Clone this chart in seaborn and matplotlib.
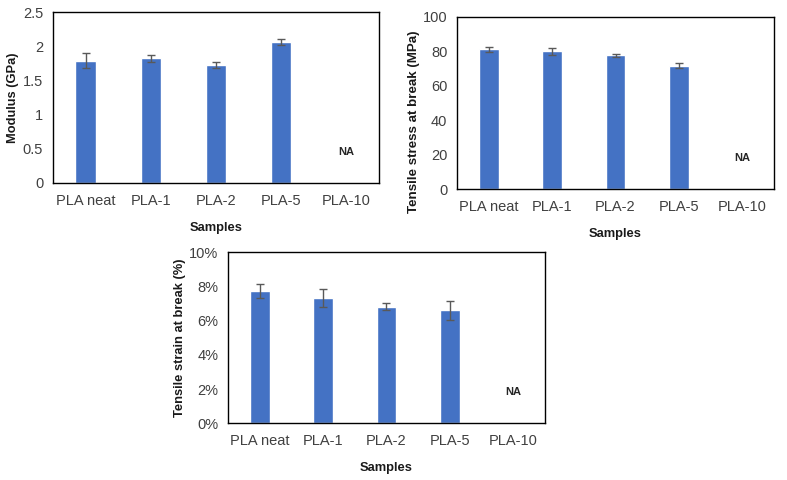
import numpy as np
import pandas as pd
import seaborn as sns
import matplotlib.pyplot as plt
from matplotlib.ticker import PercentFormatter

# data (PLA-10 not available)
samples = ['PLA neat', 'PLA-1', 'PLA-2', 'PLA-5', 'PLA-10']
modulus = [1.79, 1.82, 1.73, 2.06, np.nan]
modulus_err = [0.11, 0.05, 0.045, 0.05, np.nan]
stress = [81.1, 80.0, 77.6, 71.6, np.nan]
stress_err = [1.35, 2.0, 0.7, 1.45, np.nan]
strain = [7.74, 7.33, 6.82, 6.61, np.nan]
strain_err = [0.43, 0.5, 0.2, 0.54, np.nan]

sns.set_style('white')
plt.rcParams['font.family'] = ['Liberation Sans', 'DejaVu Sans']

bar_color = '#4472C4'
text_color = '#404040'

fig = plt.figure(figsize=(7.87, 4.8), dpi=100)
ax1 = fig.add_axes([0.0673, 0.619, 0.4143, 0.356])
ax2 = fig.add_axes([0.5807, 0.6056, 0.4028, 0.3596])
ax3 = fig.add_axes([0.2897, 0.1181, 0.4028, 0.3563])

# axis, values, errors, y label, y range, y ticks, NA label height, y label pad
panels = [
    (ax1, modulus, modulus_err, 'Modulus (GPa)', (0, 2.5), np.arange(0, 2.51, 0.5), 0.45, 3),
    (ax2, stress, stress_err, 'Tensile stress at break (MPa)', (0, 100), np.arange(0, 101, 20), 18, 1),
    (ax3, strain, strain_err, 'Tensile strain at break (%)', (0, 10), np.arange(0, 10.1, 2), 1.85, 2),
]

for ax, vals, errs, ylab, ylim, yticks, na_y, lpad in panels:
    df = pd.DataFrame({'sample': samples, 'value': vals})
    sns.barplot(data=df, x='sample', y='value', order=samples, color=bar_color,
                width=0.31, saturation=1, errorbar=None, ax=ax)
    ax.errorbar(np.arange(len(samples)), vals, yerr=errs, fmt='none',
                ecolor='#595959', elinewidth=1, capsize=3, capthick=1)
    # no bar for PLA-10, marked as NA
    ax.text(4, na_y, 'NA', ha='center', va='center', fontsize=8,
            fontweight='bold', color='#262626')
    ax.set_ylim(*ylim)
    ax.set_yticks(yticks)
    ax.set_xlim(-0.5, len(samples) - 0.5)
    ax.set_ylabel(ylab, fontsize=9.3, fontweight='bold', color='#1a1a1a', labelpad=lpad)
    ax.set_xlabel('Samples', fontsize=9.3, fontweight='bold', color='#1a1a1a', labelpad=10)
    ax.tick_params(axis='x', length=0, labelsize=10.5, labelcolor=text_color, pad=8)
    ax.tick_params(axis='y', length=0, labelsize=10.5, labelcolor=text_color, pad=7)
    for s in ax.spines.values():
        s.set_color('black')
        s.set_linewidth(1)

ax1.set_yticklabels(['0', '0.5', '1', '1.5', '2', '2.5'])
ax3.yaxis.set_major_formatter(PercentFormatter(100, decimals=0))

# stress label sits a bit lower in the original and runs past the axes bottom
ax2.yaxis.label.set_fontsize(9.6)
ax2.yaxis.set_label_coords(-0.118, 0.39)

fig.savefig('out.png', dpi=100)
